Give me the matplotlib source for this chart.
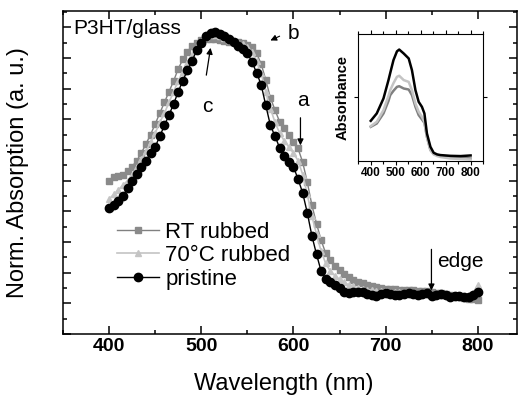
import matplotlib.pyplot as plt
import numpy as np
from matplotlib.ticker import MultipleLocator

plt.rcParams['font.family'] = ['Liberation Sans', 'DejaVu Sans']

# main panel: normalized absorption, every 5 nm
wavelength = np.arange(400, 805, 5)

pristine = [0.41, 0.42, 0.433, 0.45, 0.475, 0.50, 0.523, 0.545, 0.565, 0.59,
            0.61, 0.645, 0.68, 0.714, 0.75, 0.79, 0.826, 0.86, 0.89, 0.925,
            0.95, 0.97, 0.98, 0.983, 0.978, 0.97, 0.962, 0.952, 0.94, 0.928,
            0.916, 0.887, 0.852, 0.812, 0.745, 0.68, 0.645, 0.607, 0.58, 0.56,
            0.545, 0.505, 0.46, 0.395, 0.32, 0.26, 0.205, 0.178, 0.17, 0.16,
            0.15, 0.138, 0.135, 0.136, 0.138, 0.137, 0.13, 0.127, 0.125, 0.132,
            0.133, 0.131, 0.128, 0.127, 0.131, 0.133, 0.129, 0.127, 0.13, 0.133,
            0.124, 0.127, 0.129, 0.126, 0.122, 0.125, 0.123, 0.121, 0.122, 0.128,
            0.138]

rt_rubbed = [0.50, 0.513, 0.516, 0.52, 0.53, 0.546, 0.565, 0.59, 0.62, 0.65,
             0.685, 0.72, 0.755, 0.79, 0.825, 0.865, 0.895, 0.92, 0.94, 0.95,
             0.958, 0.962, 0.963, 0.962, 0.958, 0.955, 0.953, 0.952, 0.952, 0.948,
             0.942, 0.936, 0.915, 0.88, 0.828, 0.77, 0.73, 0.692, 0.67, 0.648,
             0.625, 0.605, 0.56, 0.495, 0.42, 0.36, 0.306, 0.263, 0.24, 0.222,
             0.209, 0.196, 0.186, 0.177, 0.17, 0.165, 0.16, 0.155, 0.152, 0.15,
             0.148, 0.147, 0.146, 0.145, 0.144, 0.143, 0.142, 0.141, 0.14, 0.139,
             0.137, 0.135, 0.133, 0.13, 0.127, 0.124, 0.121, 0.118, 0.115, 0.113,
             0.111]

rubbed_70 = [0.44, 0.455, 0.47, 0.485, 0.50, 0.52, 0.545, 0.57, 0.595, 0.625,
             0.655, 0.69, 0.72, 0.755, 0.79, 0.825, 0.855, 0.885, 0.91, 0.935,
             0.955, 0.968, 0.975, 0.976, 0.972, 0.966, 0.96, 0.955, 0.95, 0.944,
             0.935, 0.92, 0.89, 0.85, 0.79, 0.735, 0.69, 0.655, 0.63, 0.61,
             0.59, 0.565, 0.52, 0.455, 0.385, 0.325, 0.27, 0.23, 0.205, 0.19,
             0.178, 0.168, 0.16, 0.155, 0.15, 0.147, 0.145, 0.143, 0.141, 0.14,
             0.139, 0.138, 0.137, 0.136, 0.135, 0.134, 0.133, 0.132, 0.131, 0.13,
             0.129, 0.128, 0.127, 0.126, 0.125, 0.124, 0.123, 0.123, 0.125, 0.135,
             0.16]

# inset: raw absorbance (arbitrary units)
inset_wl = [400, 424, 451, 471, 478, 491, 505, 514, 532, 552, 565, 579, 592,
            605, 615, 625, 639, 652, 666, 679, 719, 760, 800]
inset_pristine = [0.314, 0.372, 0.49, 0.634, 0.69, 0.791, 0.86, 0.874, 0.843, 0.804,
                  0.712, 0.555, 0.463, 0.424, 0.372, 0.215, 0.11, 0.063, 0.05, 0.045,
                  0.039, 0.037, 0.042]
inset_70 = [0.272, 0.306, 0.398, 0.51, 0.555, 0.61, 0.66, 0.668, 0.634, 0.62,
            0.555, 0.45, 0.385, 0.346, 0.306, 0.188, 0.084, 0.05, 0.037, 0.03,
            0.018, 0.014, 0.01]
inset_rt = [0.267, 0.293, 0.372, 0.47, 0.516, 0.55, 0.581, 0.586, 0.568, 0.56,
            0.516, 0.424, 0.359, 0.325, 0.298, 0.188, 0.084, 0.055, 0.045, 0.04,
            0.031, 0.025, 0.018]

fig = plt.figure(figsize=(5.2, 3.99), dpi=100)
ax = fig.add_axes([0.1212, 0.1629, 0.8721, 0.8095])

ax.plot(wavelength, rt_rubbed, '-', color='#808080', lw=1, marker='s', ms=5,
        mfc='#8a8a8a', mec='#8a8a8a', label='RT rubbed')
ax.plot(wavelength, rubbed_70, '-', color='#c4c4c4', lw=1.2, marker='^', ms=5,
        mfc='#c4c4c4', mec='#c4c4c4', label='70\u00b0C rubbed')
ax.plot(wavelength, pristine, '-', color='k', lw=1, marker='o', ms=6,
        mfc='k', mec='k', label='pristine')

ax.set_xlim(350, 842)
ax.set_ylim(0, 1.053)
ax.xaxis.set_major_locator(MultipleLocator(100))
ax.xaxis.set_minor_locator(MultipleLocator(50))
ax.yaxis.set_major_locator(MultipleLocator(0.1))
ax.yaxis.set_minor_locator(MultipleLocator(0.05))
ax.tick_params(which='both', direction='in', top=True, right=True, width=1.1)
ax.tick_params(which='major', length=5.5)
ax.tick_params(which='minor', length=3)
ax.tick_params(axis='x', pad=3, labelsize=14)
ax.set_yticklabels([])
for lab in ax.get_xticklabels():
    lab.set_fontweight('bold')
for s in ax.spines.values():
    s.set_linewidth(1.1)

ax.set_xlabel('Wavelength (nm)', fontsize=17)
ax.xaxis.set_label_coords(0.487, -0.12)
ax.set_ylabel('Norm. Absorption (a. u.)', fontsize=17)
ax.yaxis.set_label_coords(-0.075, 0.5)

ax.text(0.022, 0.975, 'P3HT/glass', transform=ax.transAxes, fontsize=15,
        ha='left', va='top')

arr = dict(arrowstyle='-|>', color='k', lw=0.9, mutation_scale=9)
ax.annotate('', xy=(510.5, 0.942), xytext=(505, 0.835), arrowprops=arr)
ax.text(506.5, 0.743, 'c', fontsize=15, ha='center', va='center')
ax.annotate('', xy=(575, 0.957), xytext=(585, 0.971),
            arrowprops=dict(arrowstyle='-|>', color='k', lw=0.8,
                            mutation_scale=9, shrinkA=0, shrinkB=0))
ax.text(600, 0.981, 'b', fontsize=15, ha='center', va='center')
ax.annotate('', xy=(607.6, 0.606), xytext=(607.6, 0.714), arrowprops=arr)
ax.text(610, 0.76, 'a', fontsize=15, ha='center', va='center')
ax.annotate('', xy=(749.7, 0.133), xytext=(749.7, 0.285), arrowprops=arr)
ax.text(781.5, 0.235, 'edge', fontsize=15, ha='center', va='center')

ax.legend(loc='upper left', bbox_to_anchor=(0.118, 0.348), frameon=False,
          fontsize=16, handlelength=1.9, handletextpad=0.3, labelspacing=0.12,
          borderpad=0, borderaxespad=0)

# inset
ins = fig.add_axes([0.689, 0.597, 0.24, 0.319])
ins.plot(inset_wl, inset_rt, color='#808080', lw=1.8)
ins.plot(inset_wl, inset_70, color='#c4c4c4', lw=1.8)
ins.plot(inset_wl, inset_pristine, color='k', lw=1.8)
ins.set_xlim(350, 850)
ins.set_ylim(0, 1)
ins.set_xticks([400, 500, 600, 700, 800])
ins.xaxis.set_minor_locator(MultipleLocator(50))
ins.set_yticks([0.5])
ins.set_yticklabels([])
ins.tick_params(which='both', direction='out', top=True, right=True, width=0.8,
                labelsize=8.5, pad=1.5)
ins.tick_params(which='major', length=3)
ins.tick_params(which='minor', length=2)
for lab in ins.get_xticklabels():
    lab.set_fontweight('bold')
ins.set_ylabel('Absorbance', fontsize=10.5, fontweight='bold', labelpad=2)
for s in ins.spines.values():
    s.set_linewidth(0.8)

fig.savefig('out.png', dpi=100)
